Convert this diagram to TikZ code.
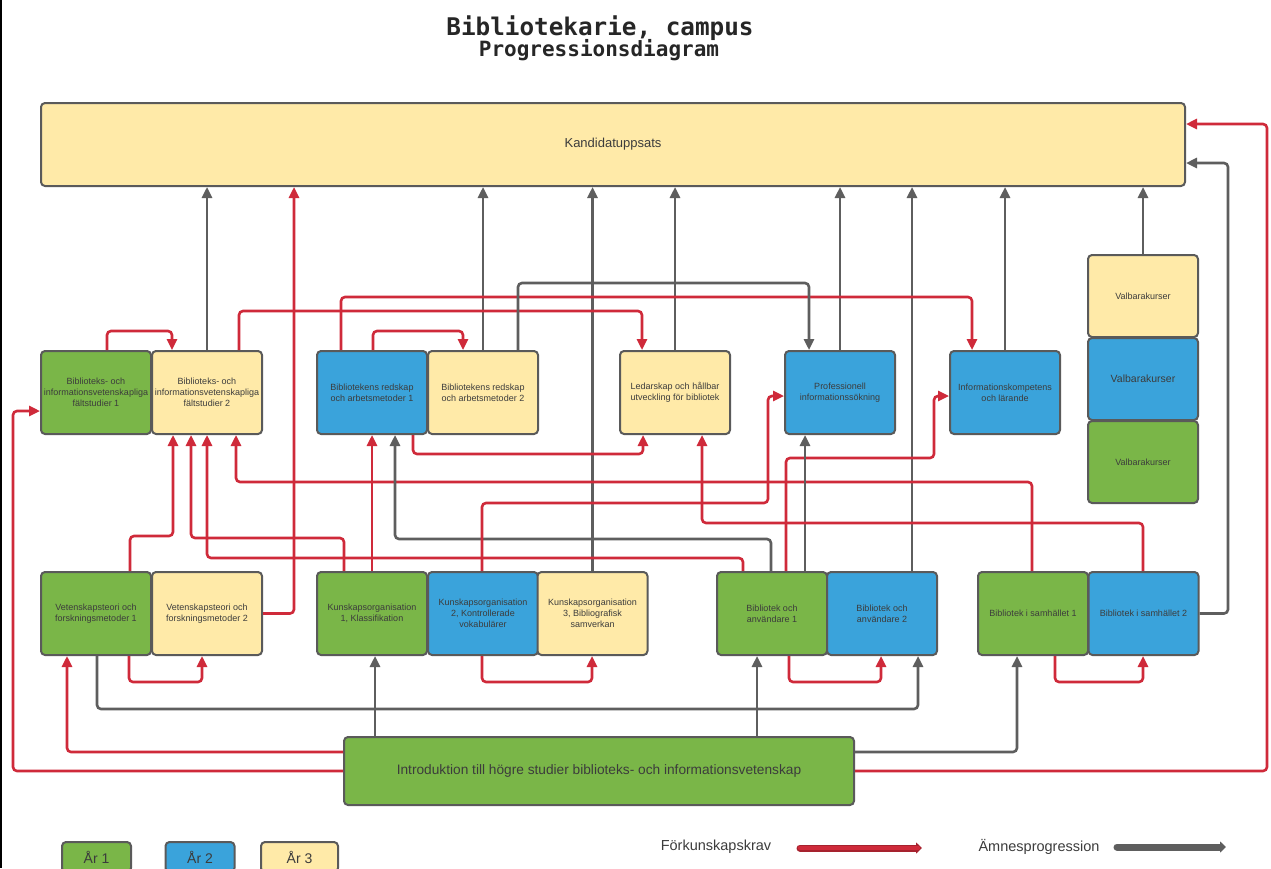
\documentclass[tikz,border=0pt]{standalone}
\usepackage{fontspec}
\setmainfont{Liberation Sans}
\newfontfamily\monofam{DejaVu Sans Mono}
\usetikzlibrary{arrows.meta,calc}
\definecolor{cgreen}{HTML}{7AB648}
\definecolor{cblue}{HTML}{3AA3DB}
\definecolor{cyellow}{HTML}{FFEAA8}
\definecolor{cred}{HTML}{CF2A3A}
\definecolor{cgray}{HTML}{5E5E5E}
\definecolor{ctext}{HTML}{3C3C3C}
\definecolor{cborder}{HTML}{5A5A5A}
\begin{document}
\begin{tikzpicture}[x=1pt,y=-1pt,
  box/.style={draw=cborder,line width=2pt,rounded corners=4pt,inner sep=0pt,
    minimum width=110pt,minimum height=83pt,align=center,text=ctext,
    font=\fontsize{9}{11}\selectfont},
  gbox/.style={box,fill=cgreen},
  bbox/.style={box,fill=cblue},
  ybox/.style={box,fill=cyellow},
  req/.style={draw=cred,line width=2.6pt,rounded corners=4pt,
    -{Triangle[length=11pt,width=10pt]}},
  prog/.style={draw=cgray,line width=2.6pt,rounded corners=4pt,
    -{Triangle[length=11pt,width=10pt]}},
  legbox/.style={draw=cborder,line width=2pt,rounded corners=4pt,
    minimum width=69pt,minimum height=30pt,inner sep=0pt,text=ctext,
    font=\fontsize{14}{16}\selectfont},
  legtext/.style={text=ctext,font=\fontsize{14.5}{16}\selectfont,inner sep=0pt}
]
\useasboundingbox (0,0) rectangle (1271,868);
\fill[white] (0,0) rectangle (1271,868);
\clip (0,0) rectangle (1271,868);
\draw[line width=1.5pt] (1,0) -- (1,868);

% title
\node[font=\monofam\bfseries\fontsize{24.3}{28}\selectfont,text=black!85] (t1) at (600,28) {Bibliotekarie, campus};
\node[font=\monofam\bfseries\fontsize{21}{24}\selectfont,text=black!85] (t2) at (599,50) {Progressionsdiagram};

% nodes
\node[ybox,minimum width=1144pt,font=\fontsize{13}{15}\selectfont] (K) at (613,144.5) {Kandidatuppsats};

\node[gbox] (biv1) at (96,392.5) {Biblioteks- och\\informationsvetenskapliga\\fältstudier 1};
\node[ybox] (biv2) at (207,392.5) {Biblioteks- och\\informationsvetenskapliga\\fältstudier 2};
\node[bbox] (br1) at (372,392.5) {Bibliotekens redskap\\och arbetsmetoder 1};
\node[ybox] (br2) at (483,392.5) {Bibliotekens redskap\\och arbetsmetoder 2};
\node[ybox] (led) at (675,392.5) {Ledarskap och hållbar\\utveckling för bibliotek};
\node[bbox] (prof) at (840,392.5) {Professionell\\informationssökning};
\node[bbox] (ikomp) at (1005,392.5) {Informationskompetens\\och lärande};

\node[ybox,minimum height=82pt] (val1) at (1143,296) {Valbarakurser};
\node[bbox,minimum height=82pt,font=\fontsize{10.5}{12}\selectfont] (val2) at (1143,379) {Valbarakurser};
\node[gbox,minimum height=82pt] (val3) at (1143,462) {Valbarakurser};

\node[gbox] (vf1) at (96,613.5) {Vetenskapsteori och\\forskningsmetoder 1};
\node[ybox] (vf2) at (207,613.5) {Vetenskapsteori och\\forskningsmetoder 2};
\node[gbox] (ko1) at (372,613.5) {Kunskapsorganisation\\1, Klassifikation};
\node[bbox] (ko2) at (483,613.5) {Kunskapsorganisation\\2, Kontrollerade\\vokabulärer};
\node[ybox] (ko3) at (592.5,613.5) {Kunskapsorganisation\\3, Bibliografisk\\samverkan};
\node[gbox] (ba1) at (772,613.5) {Bibliotek och\\användare 1};
\node[bbox] (ba2) at (882,613.5) {Bibliotek och\\användare 2};
\node[gbox] (bs1) at (1033,613.5) {Bibliotek i samhället 1};
\node[bbox] (bs2) at (1143.5,613.5) {Bibliotek i samhället 2};

\node[gbox,minimum width=510pt,minimum height=68pt,font=\fontsize{13.7}{16}\selectfont] (intro) at (599,771) {Introduktion till högre studier biblioteks- och informationsvetenskap};

% connectors into Kandidatuppsats
\begin{scope}[on background layer/.style={}]
\draw[prog] (biv2.north) -- (biv2.north |- K.south);
\draw[prog] (br2.north) -- (br2.north |- K.south);
\draw[prog] (ko3.north) -- (ko3.north |- K.south);
\draw[prog] (led.north) -- (led.north |- K.south);
\draw[prog] (prof.north) -- (prof.north |- K.south);
\draw[prog] (ba2.north -| 912,0) -- (K.south -| 912,0);
\draw[prog] (ikomp.north) -- (ikomp.north |- K.south);
\draw[prog] (val1.north) -- (val1.north |- K.south);
\draw[req] (vf2.east) -| (K.south -| 294,0);
\draw[req] (intro.east) -| (1267,124) -- (K.east |- 0,124);
\draw[prog] (bs2.east) -| (1228,163) -- (K.east |- 0,163);

% from intro
\draw[req] (intro.west) -| (13,411) -- (biv1.west |- 0,411);
\draw[req] (intro.west |- 0,752) -| (vf1.south -| 67,0);
\draw[prog] (intro.north -| 375,0) -- (ko1.south -| 375,0);
\draw[prog] (intro.north -| 757,0) -- (ba1.south -| 757,0);
\draw[prog] (intro.east |- 0,752) -| (bs1.south -| 1017,0);
\draw[prog] (vf1.south -| 97,0) |- (918,709) -- (ba2.south -| 918,0);

% within row 3
\draw[req] (vf1.south -| 129,0) |- (202,682) -- (vf2.south -| 202,0);
\draw[req] (ko2.south -| 482,0) |- (592,682) -- (ko3.south -| 592,0);
\draw[req] (ba1.south -| 789,0) |- (881,682) -- (ba2.south -| 881,0);
\draw[req] (bs1.south -| 1055,0) |- (1143,682) -- (bs2.south -| 1143,0);

% row 3 to row 2
\draw[req] (vf1.north -| 130,0) |- (173,536) -- (biv2.south -| 173,0);
\draw[req] (ko1.north -| 344,0) |- (191,538) -- (biv2.south -| 191,0);
\draw[req] (ba1.north -| 743,0) |- (207,558) -- (biv2.south -| 207,0);
\draw[req] (bs1.north -| 1032,0) |- (236,482) -- (biv2.south -| 236,0);
\draw[req] (ko1.north -| 372,0) -- (br1.south -| 372,0);
\draw[prog] (ba1.north -| 771,0) |- (395,539) -- (br1.south -| 395,0);
\draw[req] (ko2.north -| 482,0) |- (768,503) |- (prof.west |- 0,396);
\draw[req] (ba1.north -| 786,0) |- (934,458) |- (ikomp.west |- 0,396);
\draw[prog] (ba1.north -| 805,0) -- (prof.south -| 805,0);
\draw[req] (bs2.north -| 1143,0) |- (702,523) -- (led.south -| 702,0);

% within row 2
\draw[req] (biv1.north -| 107,0) |- (172,331) -- (biv2.north -| 172,0);
\draw[req] (biv2.north -| 239,0) |- (642,311) -- (led.north -| 642,0);
\draw[req] (br1.north -| 341,0) |- (972,297) -- (ikomp.north -| 972,0);
\draw[req] (br1.north -| 373,0) |- (463,331) -- (br2.north -| 463,0);
\draw[prog] (br2.north -| 518,0) |- (809,283) -- (prof.north -| 809,0);
\draw[req] (br1.south -| 413,0) |- (643,454) -- (led.south -| 643,0);
\end{scope}

% legend
\node[legbox,fill=cgreen] (y1) at (96.5,857) {År 1};
\node[legbox,fill=cblue] (y2) at (200,857) {År 2};
\node[legbox,fill=cyellow,minimum width=77pt] (y3) at (299.5,857) {År 3};
\node[legtext] (lreq) at (716,847) {Förkunskapskrav};
\node[legtext] (lprog) at (1039,847) {Ämnesprogression};
\coordinate (ra) at (800,848);
\coordinate (rb) at (922,848);
\coordinate (ga) at (1117,847);
\coordinate (gb) at (1226,847);
\draw[draw=cred!80!black,line width=7pt,line cap=round,-{Triangle[length=6pt,width=11pt]}] (ra) -- (rb);
\draw[draw=cred,line width=4.5pt,line cap=round,shorten >=4pt] (ra) -- (rb);
\draw[draw=cgray,line width=7pt,line cap=round,-{Triangle[length=6pt,width=11pt]}] (ga) -- (gb);
\end{tikzpicture}
\end{document}
